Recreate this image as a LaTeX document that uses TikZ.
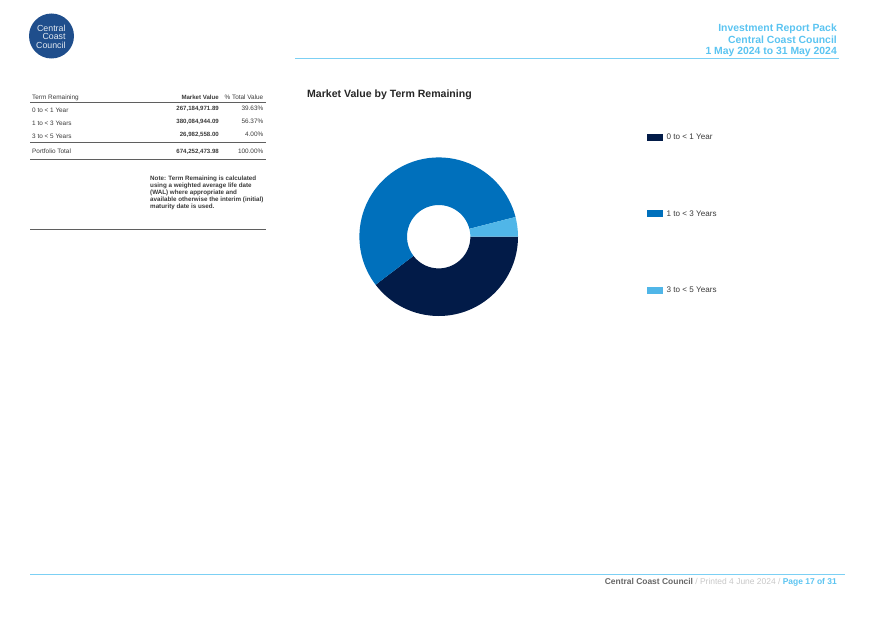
\documentclass[tikz,border=0pt]{standalone}
\usepackage{fontspec}
\setmainfont{Liberation Sans}
\usepackage{xcolor}
\definecolor{skyblue}{HTML}{5BC4F1}
\definecolor{rulegrey}{HTML}{5F5F5F}
\definecolor{darktext}{HTML}{3A3A3A}
\definecolor{navyslice}{HTML}{021B48}
\definecolor{midslice}{HTML}{0070BC}
\definecolor{lightslice}{HTML}{50B6E8}
\definecolor{logoblue}{HTML}{1F4E8C}
\tikzset{
  cell/.style={inner sep=0pt, font=\fontsize{6.4}{7}\selectfont, text=darktext},
  cellb/.style={cell, font=\fontsize{6.1}{7}\selectfont\bfseries},
  headtxt/.style={inner sep=0pt, anchor=base east, align=right, text=skyblue, font=\fontsize{10.4}{12}\selectfont\bfseries},
  legtxt/.style={inner sep=0pt, anchor=base west, text=darktext, font=\fontsize{8.1}{9}\selectfont},
  tablerule/.style={draw=rulegrey, line width=1.2pt},
  bluerule/.style={draw=skyblue!80, line width=0.9pt}
}
\begin{document}
\begin{tikzpicture}[x=1pt, y=-1pt]
  \useasboundingbox (0,0) rectangle (874,618);
  % logo
  \node (logo) [circle, fill=logoblue, minimum size=45pt, inner sep=0pt] at (51.5,36) {};
  \foreach \name/\yy/\lab in {one/28/Central, two/36.6/Coast, three/45/Council}
    \node (logo\name) [inner sep=0pt, anchor=east, text=white!88!logoblue, font=\fontsize{8.8}{9}\selectfont] at (65.7,\yy) {\lab};
  % header
  \node (head1) [headtxt] at (837,32) {Investment Report Pack};
  \node (head2) [headtxt] at (837,43.2) {Central Coast Council};
  \node (head3) [headtxt] at (837,54.5) {1 May 2024 to 31 May 2024};
  \coordinate (headl) at (295,58.5);
  \coordinate (headr) at (839,58.5);
  \draw[bluerule] (headl) -- (headr);
  % table
  \node (termh) [cell, anchor=base west] at (32,99.2) {Term Remaining};
  \node (mvh) [cellb, anchor=base east] at (219,99.2) {Market Value};
  \node (pcth) [cell, anchor=base east] at (263.5,99.2) {\% Total Value};
  \foreach \name/\yy/\yv/\term/\mv/\pct in {
    a/112.3/110.2/0 to < 1 Year/267{,}184{,}971.89/39.63\%,
    b/125.3/123.2/1 to < 3 Years/380{,}084{,}944.09/56.37\%,
    c/138.3/136.2/3 to < 5 Years/26{,}982{,}558.00/4.00\%,
    d/153.2/153.2/Portfolio Total/674{,}252{,}473.98/100.00\%}
  {
    \node (term\name) [cell, anchor=base west] at (32,\yy) {\term};
    \node (mv\name) [cellb, anchor=base east] at (219,\yv) {\mv};
    \node (pct\name) [cell, anchor=base east] at (263.5,\yv) {\pct};
  }
  \foreach \yy in {102.5,142.5,159.5,229.5}
    \draw[tablerule] (30,\yy) -- (265.5,\yy);
  \node (note) [inner sep=0pt, anchor=north west, align=left, text=darktext,
    font=\fontsize{6.25}{7}\selectfont\bfseries] at (150,175.5)
    {Note: Term Remaining is calculated\\using a weighted average life date\\(WAL) where appropriate and\\available otherwise the interim (initial)\\maturity date is used.};
  % chart
  \node (title) [inner sep=0pt, anchor=base west, text=black!85, font=\fontsize{10.55}{12}\selectfont\bfseries] at (307,97.5) {Market Value by Term Remaining};
  \coordinate (mid) at (438.7,236.7);
  \fill[navyslice] ([shift={(0:79.3)}]mid) arc[start angle=0, end angle=142.7, radius=79.3]
    -- ([shift={(142.7:31.7)}]mid) arc[start angle=142.7, end angle=0, radius=31.7] -- cycle;
  \fill[midslice] ([shift={(142.7:79.3)}]mid) arc[start angle=142.7, end angle=345.6, radius=79.3]
    -- ([shift={(345.6:31.7)}]mid) arc[start angle=345.6, end angle=142.7, radius=31.7] -- cycle;
  \fill[lightslice] ([shift={(345.6:79.3)}]mid) arc[start angle=345.6, end angle=360, radius=79.3]
    -- ([shift={(0:31.7)}]mid) arc[start angle=360, end angle=345.6, radius=31.7] -- cycle;
  % legend
  \foreach \name/\yy/\col/\lab in {
    one/137/navyslice/0 to < 1 Year,
    two/213.5/midslice/1 to < 3 Years,
    three/290/lightslice/3 to < 5 Years}
  {
    \node (key\name) [fill=\col, minimum width=16pt, minimum height=7pt, inner sep=0pt, anchor=west] at (647,\yy) {};
    \node (leg\name) [legtxt] at (666.5,\yy+2.9) {\lab};
  }
  % footer
  \coordinate (footl) at (30,574.5);
  \coordinate (footr) at (845,574.5);
  \draw[bluerule] (footl) -- (footr);
  \node (foot) [inner sep=0pt, anchor=base east, font=\fontsize{8.45}{9}\selectfont\bfseries] at (837,584)
    {\textcolor{black!60}{Central Coast Council}\textcolor{black!22}{\mdseries\ / Printed 4 June 2024 / }\textcolor{skyblue}{Page 17 of 31}};
\end{tikzpicture}
\end{document}
